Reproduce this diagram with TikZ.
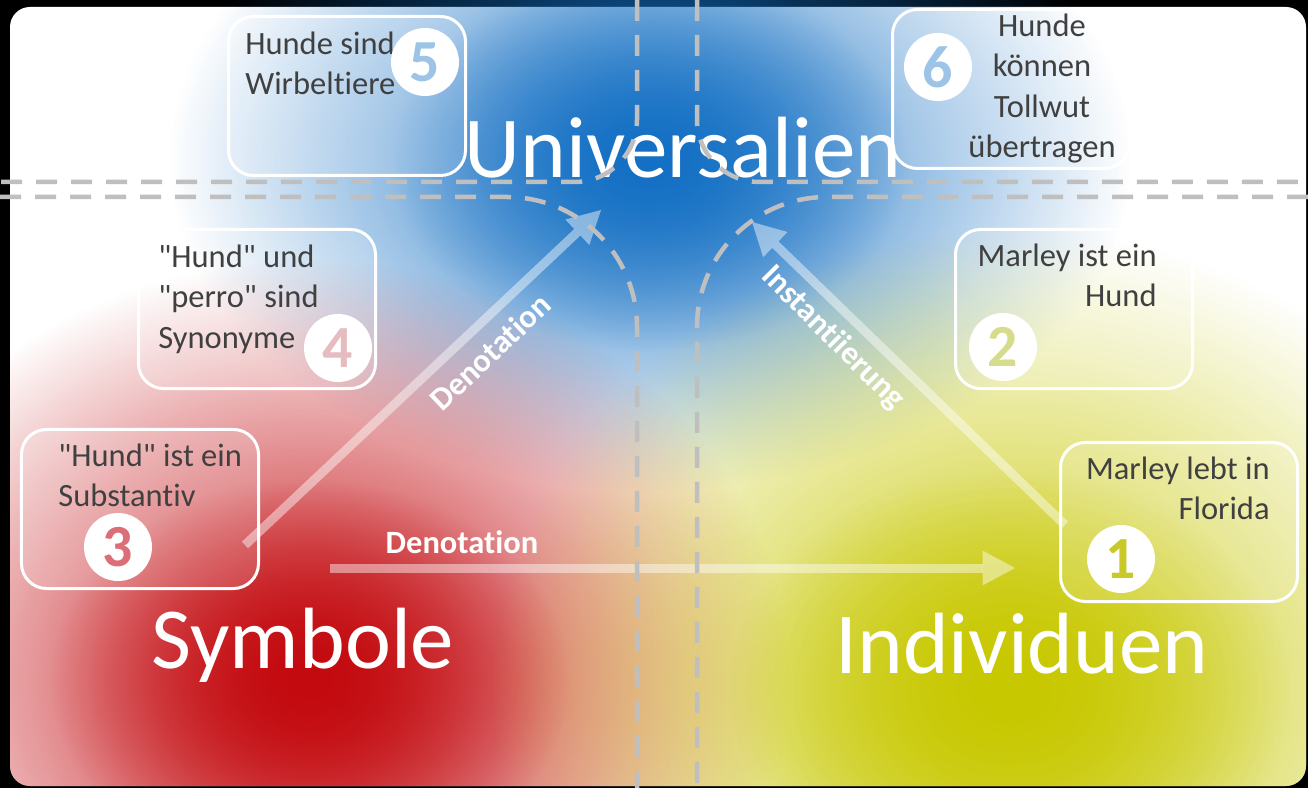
\documentclass[tikz,border=0pt]{standalone}
\usepackage{fontspec}
\newfontfamily\carlito{Carlito}[Ligatures=NoCommon]
\usetikzlibrary{arrows.meta,fadings}
\definecolor{univ}{HTML}{1470C4}
\definecolor{symb}{HTML}{C30A0F}
\definecolor{indiv}{HTML}{C8C800}
\definecolor{sep}{HTML}{BFBFBF}
\definecolor{ink}{HTML}{404040}
\definecolor{numUniv}{HTML}{9DC3E6}
\definecolor{numSyn}{HTML}{E6BCC0}
\definecolor{numSub}{HTML}{DC6E78}
\definecolor{numHund}{HTML}{D6DC8C}
\definecolor{numInd}{HTML}{C8C828}
\tikzfading[name=glow, inner color=transparent!0, outer color=transparent!100]
\tikzset{stmt/.style={draw=white,line width=0.6mm,rounded corners=5mm,fill=white,fill opacity=0.15,minimum width=47.4mm,minimum height=31.8mm}}
\tikzset{stmttext/.style={text=ink,inner sep=0pt,font=\carlito\fontsize{18.5}{22.8}\selectfont}}
\tikzset{badge/.style={circle,fill=white,inner sep=0pt,minimum size=13.6mm,font=\carlito\bfseries\fontsize{34}{34}\selectfont}}
\tikzset{realm/.style={text=white,inner sep=0pt,font=\carlito\fontsize{49.5}{50}\selectfont}}
\tikzset{flow/.style={draw=white,opacity=0.45,line width=1.8mm,-{Triangle[width=7mm,length=6.5mm,line width=0pt]}}}
\tikzset{flowlabel/.style={text=white,inner sep=0pt,font=\carlito\bfseries\fontsize{18.5}{20}\selectfont}}
\tikzset{divider/.style={draw=sep,line width=0.9mm,dash pattern=on 4.2mm off 2.8mm}}

\begin{document}
\begin{tikzpicture}[x=0.2mm,y=-0.2mm]
\useasboundingbox (0,0) rectangle (1308,788);
\fill[black] (0,0) rectangle (1308,788);
\fill[white,rounded corners=4mm] (10,7) rectangle (1306,786);

% coloured glows of the three realms
\fill[univ,path fading=glow] (650,160) ellipse [x radius=480,y radius=330];
\fill[univ,path fading=glow] (650,160) ellipse [x radius=260,y radius=190];
\begin{scope}
  \clip[rounded corners=4mm] (10,7) rectangle (1306,786);
  \fill[symb,path fading=glow] (310,680) ellipse [x radius=480,y radius=420];
  \fill[symb,path fading=glow] (310,680) ellipse [x radius=260,y radius=200];
  \fill[indiv,path fading=glow] (1010,690) ellipse [x radius=520,y radius=460];
  \fill[indiv,path fading=glow] (1010,690) ellipse [x radius=280,y radius=220];
\end{scope}

% statement boxes
\node[stmt] (box5) at (347,96) {};
\node[stmt] (box6) at (1011,89) {};
\node[stmt] (box4) at (257,309) {};
\node[stmt] (box3) at (140,509) {};
\node[stmt] (box2) at (1074,309) {};
\node[stmt] (box1) at (1179,522) {};

\node[stmttext,anchor=north west,align=left] (txt5) at (245,32) {Hunde sind\\Wirbeltiere};
\node[stmttext,anchor=north,align=center] (txt6) at (1042,14) {Hunde\\können\\Tollwut\\übertragen};
\node[stmttext,anchor=north west,align=left] (txt4) at (158,245) {"Hund" und\\"perro" sind\\Synonyme};
\node[stmttext,anchor=north west,align=left] (txt3) at (58,444) {"Hund" ist ein\\Substantiv};
\node[stmttext,anchor=north east,align=right] (txt2) at (1157,244) {Marley ist ein\\Hund};
\node[stmttext,anchor=north east,align=right] (txt1) at (1270,457) {Marley lebt in\\Florida};

\node[badge,text=numUniv] (num5) at (425,62) {5};
\node[badge,text=numUniv] (num6) at (938,67) {6};
\node[badge,text=numSyn] (num4) at (338,348) {4};
\node[badge,text=numSub] (num3) at (118,547) {3};
\node[badge,text=numHund] (num2) at (1003,347) {2};
\node[badge,text=numInd] (num1) at (1121,559) {1};

% realm names
\node[realm,anchor=base] (universalien) at (683,178) {Universalien};
\node[realm,anchor=base] (symbole) at (303,668) {Symbole};
\node[realm,anchor=base] (individuen) at (1022,673) {Individuen};

% relations
\coordinate (denTail) at (245,545);
\coordinate (denHead) at (601,210);
\coordinate (instTail) at (1065,525);
\coordinate (instHead) at (752,222);
\coordinate (indTail) at (330,568);
\coordinate (indHead) at (1015,568);
\draw[flow] (denTail) -- (denHead);
\draw[flow] (instTail) -- (instHead);
\draw[flow] (indTail) -- (indHead);
\node[flowlabel,rotate=43.3] (denLabel) at (490,352) {Denotation};
\node[flowlabel,rotate=-45] (instLabel) at (833,338) {Instantiierung};
\node[flowlabel] (indLabel) at (462,542) {Denotation};

% quadrant borders
\draw[divider,rounded corners=12.5mm] (637,0) -- (637,182) -- (0,182);
\draw[divider,rounded corners=26mm] (0,197) -- (637,197) -- (637,788);
\draw[divider,rounded corners=12.5mm] (697,0) -- (697,182) -- (1308,182);
\draw[divider,rounded corners=26mm] (1308,197) -- (697,197) -- (697,788);
\end{tikzpicture}
\end{document}
